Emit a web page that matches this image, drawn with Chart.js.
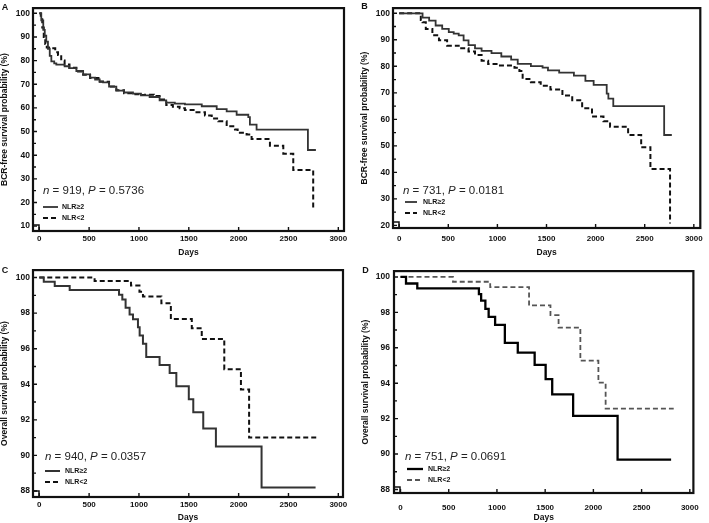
<!DOCTYPE html>
<html lang="en">
<head>
<meta charset="utf-8">
<title>NLR survival curves</title>
<script src="https://cdn.jsdelivr.net/npm/chart.js@4.4.1/dist/chart.umd.min.js"></script>
<style>
  body { margin: 0; background: #fff; }
  #wrap { position: relative; width: 709px; height: 523px; }
  canvas { position: absolute; }
</style>
</head>
<body>
<div id="wrap">
  <canvas id="panelA" width="354" height="262" style="left:0;top:0"></canvas>
  <canvas id="panelB" width="355" height="262" style="left:354px;top:0"></canvas>
  <canvas id="panelC" width="354" height="261" style="left:0;top:262px"></canvas>
  <canvas id="panelD" width="355" height="261" style="left:354px;top:262px"></canvas>
</div>
<script>
// series + tick labels
const seriesNames = ['NLR≥2', 'NLR<2'];
const xTicks = [0, 500, 1000, 1500, 2000, 2500, 3000];
const yTicksA = [10, 20, 30, 40, 50, 60, 70, 80, 90, 100];
const yTicksB = [20, 30, 40, 50, 60, 70, 80, 90, 100];
const yTicksOS = [88, 90, 92, 94, 96, 98, 100];
const nValues = [919, 731, 940, 751];
const pValues = ['0.5736', '0.0181', '0.0357', '0.0691'];

// A: BCR-free survival, whole cohort
const daysHighA = [0, 20, 40, 55, 70, 87, 105, 121, 150, 171, 254, 300, 372, 440, 510, 560, 606, 640, 700, 773, 850, 940, 1020, 1107, 1207, 1274, 1360, 1461, 1630, 1780, 1880, 1980, 2097, 2113, 2180, 2695, 2775];
const survHighA = [100, 97, 93, 90.5, 88, 85, 82, 79.7, 78.8, 78.3, 77.6, 76.8, 75.6, 74.2, 72.8, 72, 71.2, 70.8, 69, 67.3, 66.5, 66, 65.3, 64.6, 63.2, 62.2, 61.8, 61.5, 60.7, 59.5, 58.5, 57.1, 56.1, 52.9, 50.8, 42.2, 42.2];
const daysLowA = [0, 15, 30, 45, 60, 75, 121, 160, 188, 220, 254, 303, 372, 440, 510, 606, 700, 773, 850, 940, 1020, 1060, 1150, 1207, 1274, 1340, 1408, 1461, 1562, 1662, 1730, 1796, 1880, 1963, 1990, 2080, 2130, 2314, 2448, 2548, 2748];
const survLowA = [100, 98, 94, 90, 87, 85.5, 85.2, 83.5, 82.4, 80, 78.3, 77, 75.4, 74, 72.6, 71, 69, 67.5, 66.2, 65.8, 65.4, 65.6, 65, 63.5, 61.2, 60.5, 59.8, 59.1, 58.2, 56.8, 55.5, 54.3, 52.2, 50.9, 49.5, 48.8, 46.8, 44.0, 40.6, 33.7, 16.9];

// B: BCR-free survival, subgroup
const daysHighB = [0, 188, 238, 305, 371, 438, 505, 555, 606, 656, 706, 772, 839, 940, 1040, 1140, 1207, 1341, 1460, 1515, 1629, 1779, 1896, 1980, 2113, 2130, 2180, 2698, 2776];
const survHighB = [100, 100, 98.4, 97.2, 95.4, 94.1, 92.9, 92.3, 91.7, 89.8, 88, 86.8, 85.8, 85, 83.7, 82.5, 80.9, 80.1, 79.5, 78.5, 77.6, 76.5, 74.5, 73.0, 69.7, 67.8, 65.0, 54.1, 54.1];
const daysLowB = [0, 188, 220, 238, 271, 338, 405, 488, 606, 706, 772, 839, 906, 1007, 1107, 1174, 1224, 1257, 1341, 1441, 1540, 1662, 1762, 1863, 1963, 2080, 2147, 2331, 2464, 2558, 2758];
const survLowB = [100, 100, 97.5, 96.6, 94.1, 91.7, 89.8, 87.8, 86.8, 85.6, 84.3, 82.1, 80.9, 80.3, 80.3, 79.5, 78.2, 75.2, 74, 72.7, 71.3, 69, 67.2, 64.2, 61.1, 59.3, 57.2, 54.1, 49.5, 41.3, 20.7];

// C: overall survival, whole cohort
const daysHighC = [0, 45, 155, 305, 800, 833, 866, 906, 940, 990, 1007, 1040, 1073, 1207, 1308, 1375, 1500, 1545, 1645, 1772, 2230, 2772];
const survHighC = [100, 99.76, 99.52, 99.3, 99.03, 98.76, 98.3, 97.93, 97.65, 97.2, 96.74, 96.28, 95.54, 95.08, 94.63, 93.89, 93.16, 92.43, 91.51, 90.5, 88.2, 88.2];
const daysLowC = [0, 555, 920, 1005, 1040, 1225, 1320, 1530, 1630, 1856, 2023, 2105, 2808];
const survLowC = [100, 99.8, 99.55, 99.2, 98.94, 98.55, 97.67, 97.15, 96.55, 94.85, 93.7, 91.0, 91.0];

// D: overall survival, subgroup
const daysHighD = [0, 57, 174, 813, 836, 880, 914, 981, 1082, 1216, 1391, 1505, 1573, 1790, 2251, 2806];
const survHighD = [100, 99.63, 99.36, 99.03, 98.66, 98.2, 97.75, 97.29, 96.28, 95.73, 95.04, 94.23, 93.37, 92.15, 89.69, 89.69];
const daysLowD = [0, 544, 930, 1333, 1555, 1639, 1865, 2052, 2127, 2833];
const survLowD = [100, 99.73, 99.43, 98.39, 97.84, 97.14, 95.27, 94.03, 92.57, 92.57];

const FONT = '"Liberation Sans", Arial, sans-serif';

function pts(days, surv) {
  return days.map((d, i) => ({x: d, y: surv[i]}));
}

// frame, inward ticks, panel letter, stats text and legend
const kmDeco = {
  id: 'kmDeco',
  afterDatasetsDraw(chart, args, o) {
    const {ctx, chartArea: a, scales: {x, y}} = chart;
    ctx.save();
    ctx.strokeStyle = '#111';
    ctx.lineWidth = 1.4;
    ctx.beginPath();
    o.yTicks.forEach((v, i) => {
      const py = y.getPixelForValue(v);
      ctx.moveTo(a.left, py); ctx.lineTo(a.left + 4, py);
      if (i < o.yTicks.length - 1) {
        const pm = y.getPixelForValue((v + o.yTicks[i + 1]) / 2);
        ctx.moveTo(a.left, pm); ctx.lineTo(a.left + 3, pm);
      }
    });
    xTicks.forEach(v => {
      const px = x.getPixelForValue(v);
      ctx.moveTo(px, a.bottom); ctx.lineTo(px, a.bottom - 4);
    });
    ctx.stroke();

    ctx.lineWidth = 2.2;
    ctx.strokeRect(a.left, a.top, a.right - a.left, a.bottom - a.top);
    ctx.lineWidth = 1.5;
    ctx.strokeRect(a.left, a.bottom - 6, 6, 6);

    ctx.fillStyle = '#111';
    ctx.font = 'bold 9px ' + FONT;
    ctx.textAlign = 'center';
    ctx.textBaseline = 'middle';
    ctx.fillText(o.letter, o.letterX, o.letterY);

    // n = ..., P = ...
    const parts = [['n', 'italic '], [' = ' + o.n + ', ', ''], ['P', 'italic '], [' = ' + o.p, '']];
    let tx = a.left + o.statX;
    const ty = a.bottom - o.statDy;
    ctx.textAlign = 'left';
    ctx.fillStyle = '#222';
    parts.forEach(([t, st]) => {
      ctx.font = st + '11.5px ' + FONT;
      ctx.fillText(t, tx, ty);
      tx += ctx.measureText(t).width;
    });

    // legend
    chart.data.datasets.forEach((ds, i) => {
      const ly = a.bottom - o.legDy[i];
      ctx.strokeStyle = ds.borderColor;
      ctx.lineWidth = ds.borderWidth;
      ctx.setLineDash(ds.borderDash || []);
      ctx.beginPath();
      ctx.moveTo(a.left + o.legLine[0], ly);
      ctx.lineTo(a.left + o.legLine[1], ly);
      ctx.stroke();
      ctx.setLineDash([]);
      ctx.fillStyle = '#111';
      ctx.font = 'bold 7px ' + FONT;
      ctx.fillText(ds.label, a.left + o.legText, ly);
    });
    ctx.restore();
  }
};

function makePanel(id, cfg) {
  const fixTicks = list => s => { s.ticks = list.map(v => ({value: v})); };
  new Chart(document.getElementById(id), {
    type: 'line',
    data: {
      datasets: [
        {
          label: seriesNames[0], data: pts(cfg.high[0], cfg.high[1]),
          borderColor: cfg.solidColor, borderWidth: cfg.solidWidth,
          stepped: true, pointRadius: 0, fill: false
        },
        {
          label: seriesNames[1], data: pts(cfg.low[0], cfg.low[1]),
          borderColor: cfg.dashColor, borderWidth: cfg.dashWidth, borderDash: [5, 3],
          stepped: true, pointRadius: 0, fill: false
        }
      ]
    },
    options: {
      responsive: false,
      animation: false,
      events: [],
      layout: {padding: cfg.padding},
      plugins: {
        legend: {display: false},
        tooltip: {enabled: false},
        kmDeco: cfg.deco
      },
      scales: {
        x: {
          type: 'linear', min: cfg.xRange[0], max: cfg.xRange[1],
          afterBuildTicks: fixTicks(xTicks),
          afterFit: s => { s.height = cfg.xHeight; },
          grid: {display: false, drawTicks: false},
          border: {display: false},
          ticks: {
            color: '#111', padding: cfg.xPad, maxRotation: 0, autoSkip: false,
            font: {family: FONT, size: 8, weight: 'bold'},
            callback: v => String(v)
          },
          title: {
            display: true, text: 'Days', color: '#111',
            font: {family: FONT, size: 8.5, weight: 'bold'},
            padding: {top: 0, bottom: cfg.daysPad}
          }
        },
        y: {
          min: cfg.yRange[0], max: cfg.yRange[1],
          afterBuildTicks: fixTicks(cfg.deco.yTicks),
          afterFit: s => { s.width = cfg.yWidth; },
          grid: {display: false, drawTicks: false},
          border: {display: false},
          ticks: {
            color: '#111', padding: cfg.yPad, autoSkip: false,
            font: {family: FONT, size: 8.5, weight: 'bold'},
            callback: v => String(v)
          },
          title: {
            display: true, text: cfg.yTitle, color: '#111',
            font: {family: FONT, size: 8.5, weight: 'bold'},
            padding: {top: 0, bottom: 0}
          }
        }
      }
    },
    plugins: [kmDeco]
  });
}

makePanel('panelA', {
  high: [daysHighA, survHighA], low: [daysLowA, survLowA],
  solidColor: '#333', solidWidth: 1.8, dashColor: '#111', dashWidth: 2,
  padding: {left: 0, top: 2, right: 10, bottom: 2},
  xRange: [-63, 3057], yRange: [7.95, 102.19],
  xHeight: 29, yWidth: 33, xPad: 3, yPad: 3, daysPad: 1.9,
  yTitle: 'BCR-free survival probability (%)',
  deco: {yTicks: yTicksA, letter: 'A', letterX: 5, letterY: 8, n: nValues[0], p: pValues[0],
    statX: 10, statDy: 40, legDy: [24, 13], legLine: [10, 25], legText: 29}
});

makePanel('panelB', {
  high: [daysHighB, survHighB], low: [daysLowB, survLowB],
  solidColor: '#333', solidWidth: 1.8, dashColor: '#111', dashWidth: 2,
  padding: {left: 5.4, top: 2, right: 4, bottom: 2},
  xRange: [-63, 3066], yRange: [19.02, 101.96],
  xHeight: 32, yWidth: 33.6, xPad: 6.2, yPad: 3, daysPad: 1.9,
  yTitle: 'BCR-free survival probability (%)',
  deco: {yTicks: yTicksB, letter: 'B', letterX: 10.5, letterY: 7, n: nValues[1], p: pValues[1],
    statX: 10, statDy: 37, legDy: [26, 15], legLine: [12, 24], legText: 30}
});

makePanel('panelC', {
  high: [daysHighC, survHighC], low: [daysLowC, survLowC],
  solidColor: '#333', solidWidth: 2, dashColor: '#111', dashWidth: 2,
  padding: {left: 0, top: 3, right: 11, bottom: 0},
  xRange: [-63, 3047], yRange: [87.66, 100.42],
  xHeight: 26, yWidth: 33, xPad: 3.2, yPad: 3, daysPad: 0,
  yTitle: 'Overall survival probability (%)',
  deco: {yTicks: yTicksOS, letter: 'C', letterX: 5, letterY: 9, n: nValues[2], p: pValues[2],
    statX: 12, statDy: 40, legDy: [26, 15], legLine: [12, 27], legText: 32}
});

makePanel('panelD', {
  high: [daysHighD, survHighD], low: [daysLowD, survLowD],
  solidColor: '#000', solidWidth: 2.3, dashColor: '#555', dashWidth: 1.8,
  padding: {left: 6.4, top: 3, right: 7, bottom: 0},
  xRange: [-67.5, 3037], yRange: [87.8, 100.33],
  xHeight: 30, yWidth: 33.6, xPad: 10.2, yPad: 4, daysPad: 0,
  yTitle: 'Overall survival probability (%)',
  deco: {yTicks: yTicksOS, letter: 'D', letterX: 11.5, letterY: 9, n: nValues[3], p: pValues[3],
    statX: 11, statDy: 36, legDy: [24, 13], legLine: [13, 29], legText: 34}
});
</script>
</body>
</html>
